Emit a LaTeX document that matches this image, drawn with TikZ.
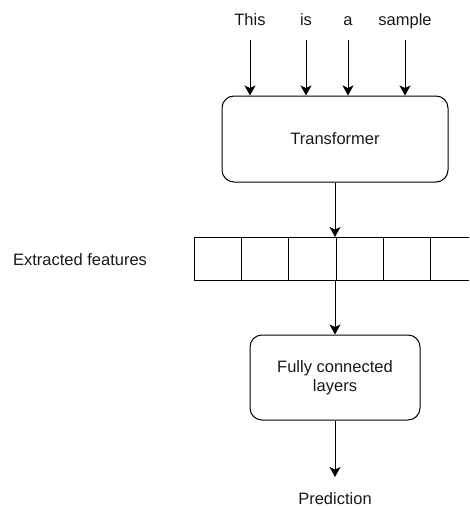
\documentclass[tikz,border=0pt]{standalone}
\usepackage{fontspec}
\setmainfont{Liberation Sans}
\usetikzlibrary{arrows.meta}

\begin{document}
\begin{tikzpicture}[x=1pt,y=-1pt,line width=1pt,>={Stealth[length=10pt,width=11pt,inset=2.5pt]},
    every node/.style={font=\fontsize{16.5}{19}\selectfont,text=black!90},
    block/.style={draw,rounded corners=12pt,inner sep=0pt,align=center},
    cell/.style={draw,minimum width=47.2pt,minimum height=43pt,inner sep=0pt,anchor=north west}]
    \useasboundingbox (0,0) rectangle (469,506);
    \clip (0,0) rectangle (469,506);

    % draw the input words
    \node[anchor=base] (this) at (250,25) {This};
    \node[anchor=base] (is) at (306,25) {is};
    \node[anchor=base] (a) at (348,25) {a};
    \node[anchor=base] (sample) at (405,25) {sample};

    % draw the transformer
    \node[block,minimum width=226pt,minimum height=86pt] (tf) at (335,139) {Transformer};
    \foreach \w in {this,is,a,sample}
        \draw[->] ([yshift=-15pt]\w.base) -- (\w |- tf.north);

    % draw the feature vector
    \node[anchor=base] (feat) at (80,265) {Extracted features};
    \foreach \i in {0,...,5}
        \node[cell] (cell\i) at ({194+47.2*\i},237) {};

    % draw the classifier
    \node[block,minimum width=170pt,minimum height=85pt] (fc) at (335,377.5) {Fully connected\\layers};
    \node[anchor=base] (pred) at (335,504) {Prediction};

    \draw[->] (tf) -- (tf.south |- cell3.north west);
    \draw[->] (tf.south |- cell3.south west) -- (fc.north);
    \draw[->] (fc) -- ([yshift=27pt]pred.base);

\end{tikzpicture}
\end{document}
